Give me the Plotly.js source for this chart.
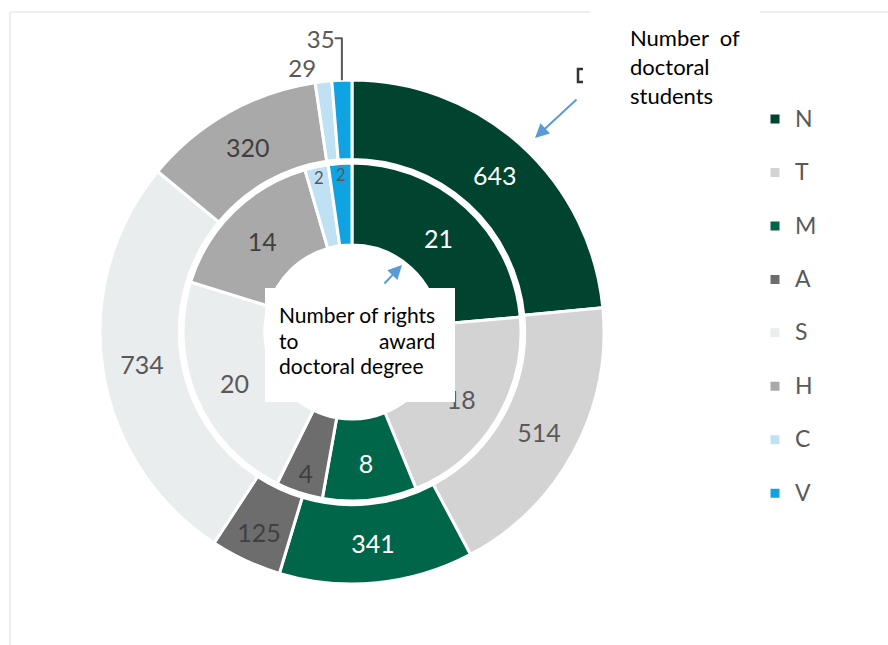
<!DOCTYPE html>
<html>
<head>
<meta charset="utf-8">
<script src="https://cdn.plot.ly/plotly-3.0.1.min.js"></script>
<style>html,body{margin:0;padding:0;background:#fff;}#chart{width:888px;height:645px;}</style>
</head>
<body>
<div id="chart"></div>
<script>
// ---- data ----
const categories = ["N", "T", "M", "A", "S", "H", "C", "V"];
const doctoralStudents = [643, 514, 341, 125, 734, 320, 29, 35];   // outer ring
const awardRights = [21, 18, 8, 4, 20, 14, 2, 2];                   // inner ring
const sliceColors = ["#00432f", "#d3d3d3", "#00664a", "#6d6d6d", "#e9eded", "#a9a9a9", "#bfe1f3", "#0fa3e2"];
const outerTextColors = ["#ffffff", "#595959", "#ffffff", "#404040", "#595959", "#404040", "#595959", "#595959"];
const innerTextColors = ["#ffffff", "#595959", "#ffffff", "#404040", "#595959", "#404040", "#595959", "#595959"];
const outerTextPos = ["inside", "inside", "inside", "inside", "inside", "inside", "outside", "outside"];

const W = 888, H = 645;
const px = x => x / W;
const py = y => 1 - y / H;
const FONT = "Lato, 'Open Sans', sans-serif";

const legendLabels = categories.map(c => "<span style='font-size:23px'>" + c + "</span><br> ");

const outer = {
  type: "pie",
  labels: legendLabels,
  values: doctoralStudents,
  text: doctoralStudents.map(String),
  textinfo: "text",
  textposition: outerTextPos,
  insidetextorientation: "horizontal",
  textfont: {family: FONT, size: 25, color: outerTextColors},
  outsidetextfont: {family: FONT, size: 24, color: "#595959"},
  hole: 0.685,
  sort: false,
  direction: "clockwise",
  rotation: 0,
  marker: {colors: sliceColors, line: {color: "#ffffff", width: 3}},
  domain: {x: [px(100), px(604)], y: [py(584), py(80)]},
  showlegend: true,
  hoverinfo: "label+value"
};

const inner = {
  type: "pie",
  labels: legendLabels,
  values: awardRights,
  text: awardRights.map(String),
  textinfo: "text",
  textposition: "inside",
  insidetextorientation: "horizontal",
  textfont: {family: FONT, size: 25, color: innerTextColors},
  hole: 0.515,
  sort: false,
  direction: "clockwise",
  rotation: 0,
  marker: {colors: sliceColors, line: {color: "#ffffff", width: 3}},
  domain: {x: [px(352 - 169), px(352 + 169)], y: [py(332 + 169), py(332 - 169)]},
  showlegend: false,
  hoverinfo: "label+value"
};

const textFont = {family: FONT, size: 21, color: "#000000"};
const topFont = {family: FONT, size: 22, color: "#000000"};

const layout = {
  width: W, height: H,
  margin: {l: 0, r: 0, t: 0, b: 0},
  paper_bgcolor: "#ffffff",
  plot_bgcolor: "#ffffff",
  showlegend: true,
  legend: {
    x: px(755), y: py(100), xanchor: "left", yanchor: "top",
    font: {family: FONT, size: 19.4, color: "#595959"},
    valign: "top",
    bgcolor: "rgba(0,0,0,0)"
  },
  shapes: [
    // faint outer frame
    {type: "line", xref: "paper", yref: "paper", x0: px(10), x1: px(590), y0: py(12), y1: py(12), line: {color: "#eeeeee", width: 2}},
    {type: "line", xref: "paper", yref: "paper", x0: px(760), x1: px(888), y0: py(12), y1: py(12), line: {color: "#eeeeee", width: 2}},
    {type: "line", xref: "paper", yref: "paper", x0: px(10), x1: px(10), y0: py(12), y1: py(645), line: {color: "#eeeeee", width: 2}},
    // white text box in the centre
    {type: "rect", xref: "paper", yref: "paper", x0: px(265), x1: px(455), y0: py(402), y1: py(288), fillcolor: "#ffffff", line: {width: 0}, layer: "above"},
    // clipped letter near the top label
    {type: "path", xref: "paper", yref: "paper",
     path: `M${px(583)},${py(69)} L${px(578)},${py(69)} L${px(578)},${py(82)} L${px(583)},${py(82)}`,
     line: {color: "#333333", width: 2.5}}
  ],
  annotations: [
    {xref: "paper", yref: "paper", x: px(628), y: py(37), xanchor: "left", yanchor: "middle", showarrow: false, text: "Number&nbsp; of", font: topFont},
    {xref: "paper", yref: "paper", x: px(628), y: py(66), xanchor: "left", yanchor: "middle", showarrow: false, text: "doctoral", font: topFont},
    {xref: "paper", yref: "paper", x: px(628), y: py(95), xanchor: "left", yanchor: "middle", showarrow: false, text: "students", font: topFont},
    {xref: "paper", yref: "paper", x: px(535), y: py(138), ax: px(578), ay: py(98), axref: "paper", ayref: "paper",
     showarrow: true, arrowhead: 2, arrowsize: 1.4, arrowwidth: 2, arrowcolor: "#5b9bd5", text: ""},
    {xref: "paper", yref: "paper", x: px(402), y: py(265), ax: px(383), ay: py(285), axref: "paper", ayref: "paper",
     showarrow: true, arrowhead: 2, arrowsize: 1.4, arrowwidth: 2, arrowcolor: "#5b9bd5", text: ""},
    {xref: "paper", yref: "paper", x: px(277), y: py(314), xanchor: "left", yanchor: "middle", showarrow: false, text: "Number of rights", font: textFont},
    {xref: "paper", yref: "paper", x: px(277), y: py(340), xanchor: "left", yanchor: "middle", showarrow: false, text: "to", font: textFont},
    {xref: "paper", yref: "paper", x: px(437), y: py(340), xanchor: "right", yanchor: "middle", showarrow: false, text: "award", font: textFont},
    {xref: "paper", yref: "paper", x: px(277), y: py(365), xanchor: "left", yanchor: "middle", showarrow: false, text: "doctoral degree", font: textFont}
  ]
};

Plotly.newPlot("chart", [outer, inner], layout, {displayModeBar: false, staticPlot: true});
</script>
</body>
</html>
